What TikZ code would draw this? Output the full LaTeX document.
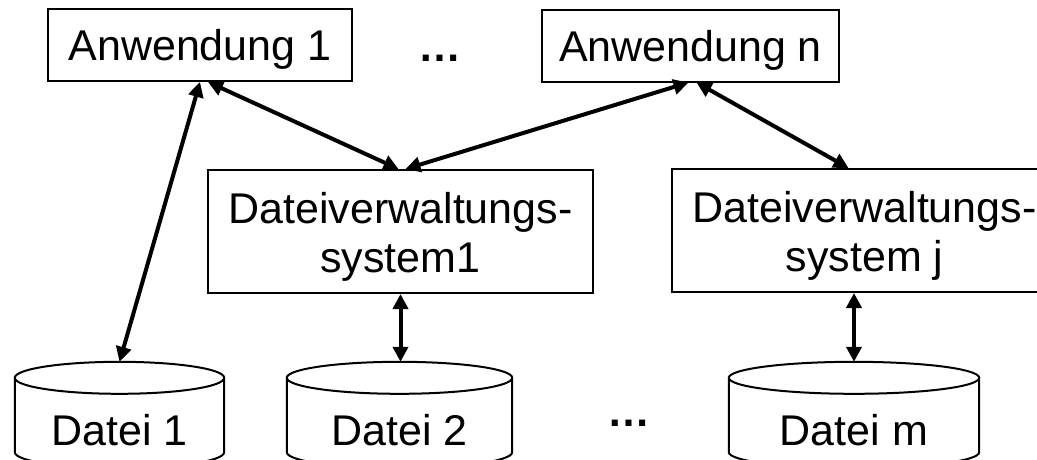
\documentclass[tikz,border=0pt]{standalone}
\usepackage{fontspec}
\setmainfont{Liberation Sans}
\usetikzlibrary{arrows.meta,calc}

% cylinder outline round a file node
\newcommand\dateiform[1]{%
\draw[line width=2pt] let \p1=(#1.north west), \p2=(#1.north east) in
  ($(#1.north)+(0,-16pt)$) ellipse [x radius={(\x2-\x1)/2}, y radius=16pt]
  ($(#1.north west)+(0,-16pt)$) -- ($(#1.south west)+(0,16pt)$)
  arc [start angle=180, end angle=360, x radius={(\x2-\x1)/2}, y radius=16pt]
  -- ($(#1.north east)+(0,-16pt)$);}

\begin{document}
\begin{tikzpicture}[x=1pt,y=-1pt,
every node/.style={font=\fontsize{43}{49}\selectfont},
anw/.style={draw,line width=2pt,minimum height=72pt,text height=31pt,text depth=0pt},
dvs/.style={draw,line width=2pt,minimum width=385pt,minimum height=123pt,align=center,text height=81pt,text depth=0pt},
datei/.style={minimum height=106pt,text height=60pt,text depth=0pt},
pfeil/.style={line width=4pt,{Triangle[length=15pt,width=15pt]}-{Triangle[length=15pt,width=15pt]}}]

\clip (0,0) rectangle (1037,459);

\node[anw,minimum width=304pt] (a1) at (200,45) {Anwendung 1};
\node[anw,minimum width=297pt] (an) at (690.5,45.5) {Anwendung n};
\node (pkt1) at (440,58) {\textbf{…}};

\node[dvs] (dvs1) at (400.5,231.5) {Dateiverwaltungs-\\system1};
\node[dvs] (dvsj) at (864.5,230.5) {Dateiverwaltungs-\\system j};

\node[datei,minimum width=209pt] (d1) at (119.5,415) {Datei 1};
\node[datei,minimum width=225pt] (d2) at (399.5,415) {Datei 2};
\node[datei,minimum width=250pt] (dm) at (854,415) {Datei m};
\node (pkt2) at (629,423) {\textbf{…}};
\dateiform{d1}
\dateiform{d2}
\dateiform{dm}

\draw[pfeil] (a1.south) -- (d1.north);
\draw[pfeil] ([xshift=8pt]a1.south) -- ([xshift=-2pt]dvs1.north);
\draw[pfeil] ([xshift=-2pt]an.south) -- ([xshift=5pt]dvs1.north);
\draw[pfeil] ([xshift=6pt]an.south) -- ([xshift=-16pt]dvsj.north);
\draw[pfeil] (dvs1.south) -- (dvs1.south |- d2.north);
\draw[pfeil] (dm.north |- dvsj.south) -- (dm.north);

\end{tikzpicture}
\end{document}
